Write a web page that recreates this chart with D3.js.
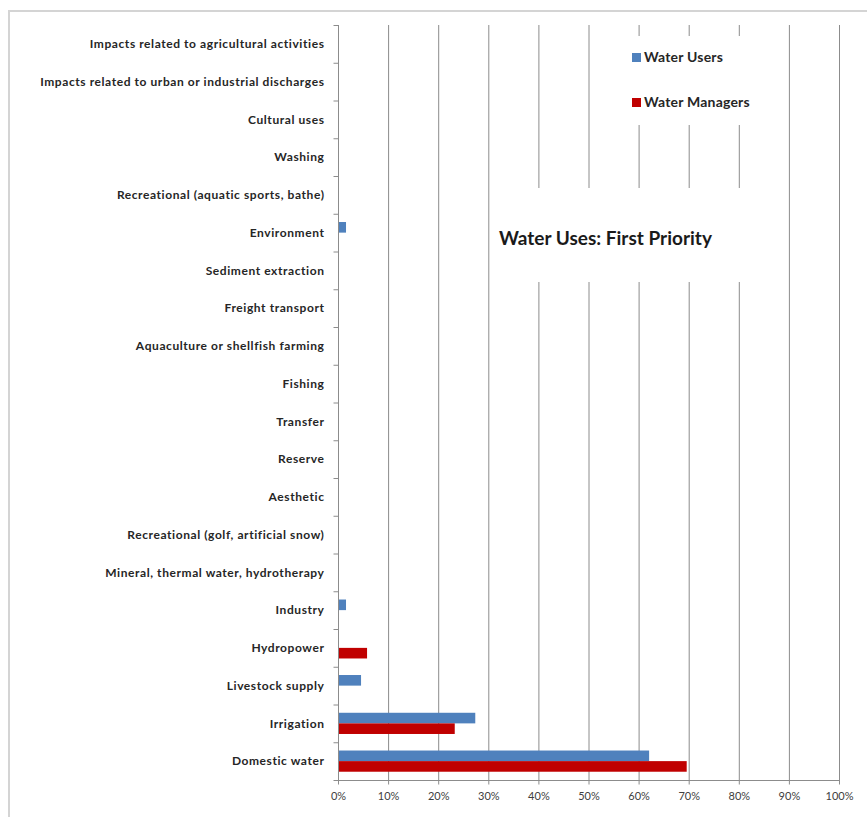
<!DOCTYPE html>
<html>
<head>
<meta charset="utf-8">
<script src="https://cdn.jsdelivr.net/npm/d3@7"></script>
<style>
  html, body { margin: 0; padding: 0; background: #fff; }
  svg { display: block; }
  text { font-family: Lato, "Open Sans", sans-serif; }
</style>
</head>
<body>
<script>
const categories = [
  "Impacts related to agricultural activities",
  "Impacts related to urban or industrial discharges",
  "Cultural uses",
  "Washing",
  "Recreational (aquatic sports, bathe)",
  "Environment",
  "Sediment extraction",
  "Freight transport",
  "Aquaculture or shellfish farming",
  "Fishing",
  "Transfer",
  "Reserve",
  "Aesthetic",
  "Recreational (golf, artificial snow)",
  "Mineral, thermal water, hydrotherapy",
  "Industry",
  "Hydropower",
  "Livestock supply",
  "Irrigation",
  "Domestic water"
];
const waterUsers    = [0, 0, 0, 0, 0, 1.6, 0, 0, 0, 0, 0, 0, 0, 0, 0, 1.6, 0, 4.6, 27.4, 62.1];
const waterManagers = [0, 0, 0, 0, 0, 0, 0, 0, 0, 0, 0, 0, 0, 0, 0, 0, 5.8, 0, 23.3, 69.6];
const seriesNames = ["Water Users", "Water Managers"];
const xTicks = [0, 10, 20, 30, 40, 50, 60, 70, 80, 90, 100];
const chartTitle = "Water Uses: First Priority";

const W = 867, H = 817;
const colors = ["#4F81BD", "#C00000"];
const m = { left: 338, right: 839, top: 25, bottom: 780 };

const svg = d3.select("body").append("svg").attr("width", W).attr("height", H);

// outer frame
svg.append("path")
  .attr("d", `M9,${H} L9,11 L${W},11`)
  .attr("fill", "none").attr("stroke", "#d4d4d4").attr("stroke-width", 2);

const x = d3.scaleLinear().domain([0, 100]).range([m.left, m.right]);
const y = d3.scaleBand().domain(categories).range([m.top, m.bottom]);
const inner = d3.scaleBand().domain(seriesNames).range([0, y.bandwidth()]).paddingOuter(0.78).paddingInner(0);

// gridlines
svg.append("g").selectAll("line").data(xTicks.slice(1)).join("line")
  .attr("x1", d => x(d) + 0.5).attr("x2", d => x(d) + 0.5)
  .attr("y1", m.top).attr("y2", m.bottom)
  .attr("stroke", "#8c8c8c").attr("stroke-width", 1);

// bars
const data = [waterUsers, waterManagers];
data.forEach((vals, si) => {
  svg.append("g").selectAll("rect").data(categories.map((c, i) => ({ c, v: vals[i] })).filter(d => d.v > 0))
    .join("rect")
    .attr("x", x(0) + 1)
    .attr("y", d => y(d.c) + inner(seriesNames[si]))
    .attr("width", d => x(d.v) - x(0) - 1)
    .attr("height", inner.bandwidth())
    .attr("fill", colors[si]);
});

// legend box (hides gridlines)
svg.append("rect").attr("x", 625).attr("y", 36).attr("width", 160).attr("height", 89).attr("fill", "#fff");
const lg = svg.append("g");
seriesNames.forEach((s, i) => {
  const ly = 57 + i * 45;
  lg.append("rect").attr("x", 632).attr("y", ly - 4).attr("width", 9).attr("height", 9).attr("fill", colors[i]);
  lg.append("text").attr("x", 644).attr("y", ly).attr("dy", "0.35em")
    .attr("font-size", 14).attr("letter-spacing", 0.2).attr("font-weight", "bold").attr("fill", "#262626").text(s);
});

// title box
svg.append("rect").attr("x", 492).attr("y", 188).attr("width", 295).attr("height", 94).attr("fill", "#fff");
svg.append("text").attr("x", 499).attr("y", 238).attr("dy", "0.35em")
  .attr("font-size", 19).attr("font-weight", "bold").attr("fill", "#1a1a1a").text(chartTitle);

// y axis
const yAxis = svg.append("g").attr("transform", `translate(${m.left + 0.5},0)`);
yAxis.append("line").attr("y1", m.top).attr("y2", m.bottom).attr("stroke", "#8c8c8c");
yAxis.selectAll("line.t").data(d3.range(categories.length + 1)).join("line").attr("class", "t")
  .attr("x1", -5).attr("x2", 0)
  .attr("y1", i => m.top + i * y.step() + 0.5).attr("y2", i => m.top + i * y.step() + 0.5)
  .attr("stroke", "#8c8c8c");
yAxis.selectAll("text").data(categories).join("text")
  .attr("x", -14).attr("y", d => y(d) + y.bandwidth() / 2).attr("dy", "0.35em")
  .attr("text-anchor", "end").attr("font-size", 12).attr("letter-spacing", 0.58)
  .attr("font-weight", "bold").attr("fill", "#262626")
  .text(d => d);

// x axis
const xAxis = svg.append("g").attr("transform", `translate(0,${m.bottom + 0.5})`)
  .call(d3.axisBottom(x).tickValues(xTicks).tickSize(4).tickFormat(d => d + "%").tickPadding(8));
xAxis.select(".domain").attr("stroke", "#8c8c8c").attr("d", `M${m.left},0H${m.right + 1}`);
xAxis.selectAll(".tick line").attr("stroke", "#8c8c8c");
xAxis.selectAll(".tick text").attr("font-size", 11).attr("fill", "#404040")
  .attr("font-family", "Lato, sans-serif");
</script>
</body>
</html>
